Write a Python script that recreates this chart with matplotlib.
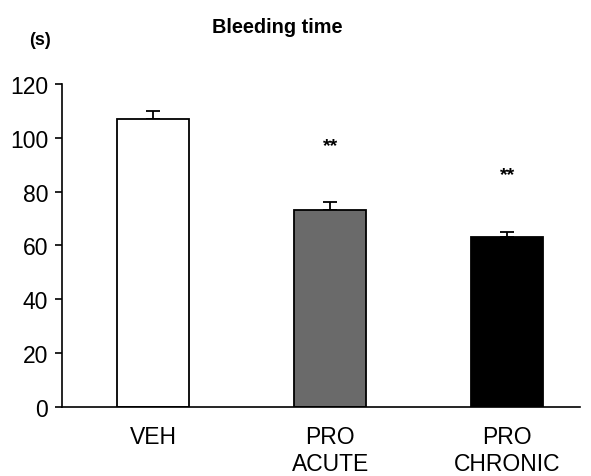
import matplotlib
matplotlib.use("Agg")
import matplotlib.pyplot as plt

plt.rcParams["font.family"] = ["Liberation Sans", "DejaVu Sans"]

# Data
groups = ["VEH", "PRO\nACUTE", "PRO\nCHRONIC"]
means = [107, 73, 63]
sem = [3, 3, 2]
stars = ["", "**", "**"]
star_y = [None, 97, 86.5]
colors = ["white", "#6a6a6a", "black"]

fig = plt.figure(figsize=(5.91, 4.77), dpi=100)
ax = fig.add_axes([0.105, 0.1447, 0.876, 0.6773])

x = list(range(len(groups)))
ax.bar(x, means, width=0.41, color=colors, edgecolor="black", linewidth=1.3, zorder=2)
ax.errorbar(x, means, yerr=[[0] * len(sem), sem], fmt="none", ecolor="black",
            elinewidth=1.3, capsize=5, capthick=1.3, zorder=1)

for xi, s, sy in zip(x, stars, star_y):
    if s:
        ax.text(xi, sy, s, ha="center", va="center", fontsize=14, fontweight="bold")

ax.set_ylim(0, 120)
ax.set_xlim(-0.514, 2.41)
ax.set_yticks(range(0, 121, 20))
ax.set_xticks(x)
ax.set_xticklabels(groups, fontsize=16.5, linespacing=1.22)
ax.tick_params(axis="y", labelsize=16.5, length=5, width=1.2, direction="out", pad=5)
ax.tick_params(axis="x", length=0, pad=13)
for side in ["top", "right"]:
    ax.spines[side].set_visible(False)
ax.spines["left"].set_linewidth(1.2)
ax.spines["bottom"].set_linewidth(1.2)

fig.text(0.469, 0.943, "Bleeding time", ha="center", va="center",
         fontsize=14.3, fontweight="bold")
fig.text(0.068, 0.916, "(s)", ha="center", va="center", fontsize=13, fontweight="bold")

fig.savefig("out.png", dpi=100)
